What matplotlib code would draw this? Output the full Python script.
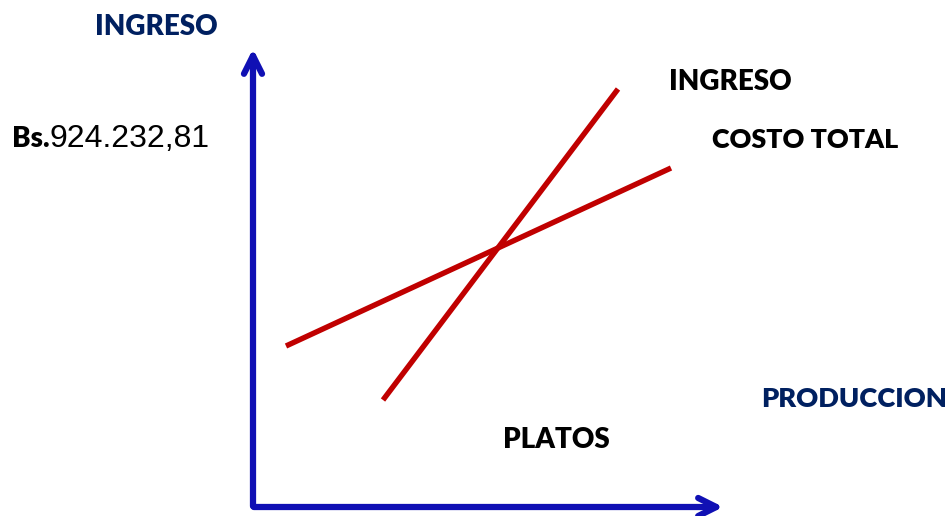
import matplotlib
matplotlib.use("Agg")
import matplotlib.pyplot as plt

# puntos de las rectas (unidades arbitrarias: produccion vs ingreso)
ingreso_x = [130, 365]
ingreso_y = [107, 418]
costo_x = [33, 418]
costo_y = [161, 339]

monto = "924.232,81"

fig = plt.figure(figsize=(9.49, 5.16), dpi=100)
ax = fig.add_axes([0, 0, 1, 1])
ax.set_xlim(-253, 696)
ax.set_ylim(-9, 507)
ax.axis("off")

azul = "#1010B4"
rojo = "#C00000"
azul_txt = "#002060"

# ejes con flecha
flecha = dict(arrowstyle="->,head_length=1.3,head_width=0.65", color=azul, lw=4.5)
ax.annotate("", xy=(0, 461), xytext=(0, -2), arrowprops=flecha)
ax.annotate("", xy=(473, 0), xytext=(-2, 0), arrowprops=flecha)

ax.plot(ingreso_x, ingreso_y, color=rojo, lw=3.9, solid_capstyle="butt")
ax.plot(costo_x, costo_y, color=rojo, lw=3.9, solid_capstyle="butt")

fb = dict(family="Lato", weight="heavy")
ax.text(-97, 480, "INGRESO", color=azul_txt, fontsize=20, ha="center", va="center", **fb)
ax.text(601, 108, "PRODUCCION", color=azul_txt, fontsize=19.6, ha="center", va="center", **fb)
ax.text(477, 425, "INGRESO", color="black", fontsize=20, ha="center", va="center", **fb)
ax.text(552, 367, "COSTO TOTAL", color="black", fontsize=19.4, ha="center", va="center", **fb)
ax.text(303, 67, "PLATOS", color="black", fontsize=20, ha="center", va="center", **fb)

t = ax.text(-241, 368, "Bs.", color="black", fontsize=20, ha="left", va="center", **fb)
fig.canvas.draw()
bb = t.get_window_extent()
x_end = ax.transData.inverted().transform((bb.x1, bb.y0))[0]
ax.text(x_end, 368, monto, color="black", fontsize=23, ha="left", va="center",
        family="Liberation Sans")

fig.savefig("out.png", dpi=100)
